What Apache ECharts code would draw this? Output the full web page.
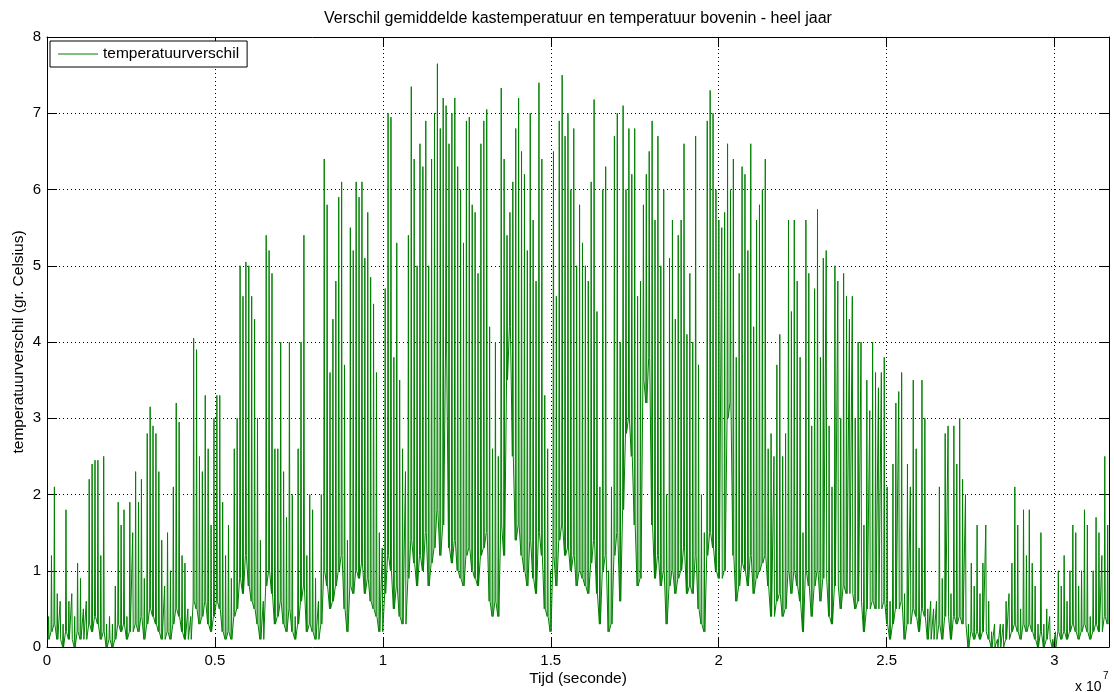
<!DOCTYPE html>
<html>
<head>
<meta charset="utf-8">
<script src="https://cdn.jsdelivr.net/npm/echarts@6/dist/echarts.min.js"></script>
<style>
  html, body { margin: 0; padding: 0; background: #ffffff; }
  #chart { width: 1114px; height: 692px; }
</style>
</head>
<body>
<div id="chart"></div>
<script>
// Yearly log (leap year, 366 days) of the difference between the mean greenhouse
// temperature and the temperature at the top, in degrees Celsius.
const SECONDS_PER_DAY = 86400;
const X_MAX = 366 * SECONDS_PER_DAY;   // 3.16224e7 s

// Daily maximum of the temperature difference (one value per day).
const dayPeak = [
  0.4,1.2,2.1,0.7,0.6,0.3,1.8,0.6,0.7,0.4,
  1.1,0.9,0.5,0.6,2.2,2.4,2.45,2.45,1.2,2.5,
  0.3,0.4,0.3,0.8,1.9,1.6,1.8,0.4,1.9,1.5,
  2.3,1.9,2.2,0.9,2.8,3.15,2.9,2.8,2.3,1.4,
  0.8,1.5,1.0,2.1,3.2,2.95,1.2,1.1,0.5,0.4,
  4.05,3.9,2.5,2.3,3.3,2.6,1.6,3.0,3.3,3.3,
  1.9,1.2,1.6,0.9,2.6,3.0,5.0,4.6,5.05,5.0,
  4.6,4.3,3.0,1.4,0.6,5.4,5.2,4.9,2.6,2.6,
  4.0,2.3,1.7,4.0,2.0,0.4,2.6,4.0,5.4,1.2,
  2.0,1.8,0.9,0.6,2.0,6.4,5.8,3.6,4.3,4.8,
  5.9,6.1,3.7,1.4,5.5,5.2,6.1,5.9,6.1,5.1,
  5.7,4.85,4.5,3.6,1.5,1.3,4.7,7.0,6.95,3.8,
  5.3,3.5,2.6,2.3,5.4,7.35,6.4,5.0,6.6,6.3,
  6.9,5.0,6.4,7.0,7.65,6.8,7.2,7.1,6.6,7.0,
  7.2,6.3,6.0,5.3,6.9,6.95,5.8,5.7,4.9,6.6,
  6.9,7.05,4.2,2.6,4.0,2.5,7.33,6.4,5.4,5.7,
  6.1,6.8,7.2,6.5,6.2,5.2,7.0,5.6,4.8,7.4,
  6.4,3.3,2.6,1.0,6.5,4.6,6.9,7.5,6.7,7.0,
  6.0,6.8,5.0,5.8,5.3,5.0,4.8,6.1,7.18,4.4,
  2.1,6.0,6.3,1.0,2.1,6.7,7.0,4.0,7.1,6.0,
  6.8,6.2,6.8,4.6,4.8,5.8,6.2,6.5,6.9,5.6,
  6.7,5.0,6.0,2.0,5.1,5.6,4.3,5.4,5.6,6.6,
  4.1,4.9,4.0,6.7,3.7,2.0,1.5,6.9,7.3,7.0,
  6.0,5.6,5.5,5.7,6.6,6.0,6.4,3.8,4.9,6.3,
  6.2,5.2,6.6,4.2,5.6,5.8,6.0,6.4,2.6,2.8,
  2.5,3.7,4.1,2.5,2.8,5.6,4.4,5.6,4.8,3.8,
  1.5,5.6,4.9,2.9,4.7,5.74,3.8,5.1,5.2,2.9,
  2.1,5.0,4.8,3.0,4.9,4.6,4.3,4.6,3.0,4.0,
  4.0,1.6,3.5,3.1,4.0,3.6,3.4,3.6,3.8,2.1,
  0.6,2.4,3.2,3.35,3.6,0.7,2.4,2.1,3.5,2.6,
  1.3,3.5,3.0,0.5,0.6,0.5,0.6,2.1,0.9,2.8,
  2.9,0.7,2.9,2.4,3.0,2.2,2.0,0.3,1.1,0.8,
  1.6,0.7,1.1,1.6,0.6,0.2,0.3,0.1,0.3,0.3,
  0.6,0.7,1.1,2.1,1.6,0.5,1.8,1.2,1.8,1.1,
  0.8,0.3,1.5,0.3,0.5,0.4,0.1,0.2,1.0,0.8,
  1.2,0.6,1.0,1.6,1.5,0.8,1.0,1.8,1.6,0.4,
  1.0,1.7,1.5,1.2,2.5,1.6
];

// Night-time level of the temperature difference (one value per day).
const dayLow = [
  0.1,0.2,0.3,0.1,0.1,0.0,0.2,0.1,0.1,0.0,
  0.2,0.1,0.1,0.1,0.3,0.2,0.4,0.3,0.1,0.2,
  0.0,0.1,0.0,0.1,0.3,0.2,0.3,0.1,0.2,0.2,
  0.3,0.2,0.4,0.1,0.3,0.5,0.4,0.3,0.2,0.1,
  0.1,0.2,0.1,0.3,0.5,0.4,0.2,0.1,0.1,0.1,
  0.6,0.5,0.3,0.4,0.6,0.3,0.2,0.4,0.6,0.5,
  0.2,0.1,0.2,0.1,0.4,0.5,0.9,0.7,1.2,0.8,
  0.6,0.5,0.3,0.1,0.1,0.8,1.0,0.7,0.3,0.4,
  0.6,0.3,0.2,0.5,0.2,0.1,0.3,0.6,0.8,0.2,
  0.3,0.2,0.1,0.1,0.3,1.0,0.8,0.5,0.6,0.8,
  1.0,1.2,0.5,0.2,0.8,0.7,1.0,0.9,1.1,0.7,
  0.9,0.6,0.5,0.4,0.2,0.2,0.7,1.2,1.0,0.5,
  0.8,0.4,0.3,0.3,0.9,1.4,1.1,0.8,1.2,1.0,
  1.5,0.8,1.1,1.3,1.8,1.2,1.6,4.0,1.3,1.1,
  1.4,1.0,0.9,0.8,1.2,1.3,1.0,0.9,0.8,1.2,
  1.3,1.5,0.6,0.4,0.6,0.4,1.6,1.2,3.5,4.2,
  2.5,1.4,1.6,1.2,1.0,0.8,1.4,0.9,0.7,1.5,
  1.2,0.5,0.4,0.2,1.2,0.8,1.4,1.6,1.2,1.3,
  1.0,1.2,0.8,1.0,0.9,0.8,0.7,1.1,1.4,0.7,
  0.3,1.0,1.2,0.2,0.3,1.2,1.5,0.6,1.8,2.8,
  3.0,2.5,1.6,0.8,0.9,3.5,3.2,3.8,1.6,0.9,
  1.2,0.8,1.0,0.3,0.8,1.0,0.7,0.9,1.0,1.3,
  0.7,0.8,0.7,1.2,0.5,0.3,0.2,1.2,1.5,1.3,
  1.0,0.9,0.9,1.0,3.0,3.2,1.2,0.6,0.8,1.1,
  1.0,0.8,1.2,0.7,0.9,1.0,1.1,1.2,0.8,0.4,
  0.4,0.6,0.7,0.4,0.5,1.0,0.7,1.0,0.8,0.6,
  0.2,1.0,0.8,0.4,0.8,1.0,0.6,0.9,0.9,0.4,
  0.3,0.8,0.8,0.5,0.8,0.7,0.7,0.7,0.5,0.6,
  0.6,0.2,0.5,0.5,0.6,0.5,0.5,0.5,0.6,0.3,
  0.1,0.3,0.5,0.5,0.6,0.1,0.3,0.3,0.5,0.4,
  0.2,0.5,0.4,0.1,0.1,0.1,0.1,0.3,0.1,0.4,
  0.4,0.1,0.4,0.3,0.4,0.3,0.3,0.0,0.2,0.1,
  0.2,0.1,0.2,0.2,0.1,0.0,0.0,0.0,0.0,0.0,
  0.1,0.1,0.2,0.3,0.2,0.1,0.3,0.2,0.3,0.2,
  0.1,0.0,0.2,0.0,0.1,0.1,0.0,0.0,0.2,0.1,
  0.2,0.1,0.2,0.3,0.2,0.1,0.2,0.3,0.2,0.1,
  0.2,0.3,0.2,0.2,0.4,0.3
];

// Axis ticks
const xTickStep = 5e6;     // labelled in units of 1e7 s
const yTicks = [0, 1, 2, 3, 4, 5, 6, 7, 8];

// Per day: night level in the morning, afternoon peak, night level in the evening.
const seriesData = [];
for (let d = 0; d < dayPeak.length; d++) {
  const t0 = d * SECONDS_PER_DAY;
  seriesData.push([t0 + 9 * 3600, dayLow[d]]);
  seriesData.push([t0 + 13 * 3600, dayPeak[d]]);
  seriesData.push([t0 + 17 * 3600, dayLow[d]]);
}

const FONT = "'Liberation Sans', Arial, Helvetica, sans-serif";
const AXIS_COLOR = '#000000';
const gridLine = () => ({ show: true, lineStyle: { color: '#000000', width: 1, type: [1, 3] } });
const tickIn = () => ({ show: true, inside: true, length: 10, lineStyle: { color: AXIS_COLOR, width: 1 } });
const axisLine = () => ({ show: true, onZero: false, lineStyle: { color: AXIS_COLOR, width: 1 } });

const chart = echarts.init(document.getElementById('chart'), null, { renderer: 'canvas' });
chart.setOption({
  animation: false,
  backgroundColor: '#ffffff',
  title: {
    text: 'Verschil gemiddelde kastemperatuur en temperatuur bovenin - heel jaar',
    left: 578, top: 11, textAlign: 'center', padding: 0,
    textStyle: { fontFamily: FONT, fontSize: 16, fontWeight: 'normal', color: '#000' }
  },
  legend: {
    data: ['temperatuurverschil'],
    left: 50, top: 41,
    padding: [5, 8, 5, 8],
    borderColor: '#000', borderWidth: 1, backgroundColor: '#ffffff',
    icon: 'rect', itemWidth: 40, itemHeight: 1,
    textStyle: { fontFamily: FONT, fontSize: 15.5, color: '#000' }
  },
  grid: { left: 47, right: 5, top: 37, bottom: 45, containLabel: false },
  xAxis: [{
    type: 'value', position: 'bottom', min: 0, max: X_MAX, interval: xTickStep,
    name: 'Tijd (seconde)', nameLocation: 'middle', nameGap: 24, nameMoveOverlap: false,
    nameTextStyle: { fontFamily: FONT, fontSize: 15.5, color: '#000' },
    axisLine: axisLine(),
    axisTick: tickIn(),
    axisLabel: {
      fontFamily: FONT, fontSize: 15, color: '#000', margin: 6,
      showMaxLabel: false,
      formatter: v => String(+(v / 1e7).toFixed(2))
    },
    splitLine: gridLine()
  }, {
    type: 'value', position: 'top', min: 0, max: X_MAX, interval: xTickStep,
    axisLine: axisLine(),
    axisTick: tickIn(), axisLabel: { show: false }, splitLine: { show: false }
  }],
  yAxis: [{
    type: 'value', position: 'left', min: yTicks[0], max: yTicks[yTicks.length - 1], interval: 1,
    name: 'temperatuurverschil (gr. Celsius)', nameLocation: 'middle', nameGap: 20, nameMoveOverlap: false,
    nameTextStyle: { fontFamily: FONT, fontSize: 15.5, color: '#000' },
    axisLine: axisLine(),
    axisTick: tickIn(),
    axisLabel: { fontFamily: FONT, fontSize: 15, color: '#000', margin: 6 },
    splitLine: gridLine()
  }, {
    type: 'value', position: 'right', min: yTicks[0], max: yTicks[yTicks.length - 1], interval: 1,
    axisLine: axisLine(),
    axisTick: tickIn(), axisLabel: { show: false }, splitLine: { show: false }
  }],
  series: [{
    name: 'temperatuurverschil',
    type: 'line',
    xAxisIndex: 0, yAxisIndex: 0,
    data: seriesData,
    showSymbol: false, symbol: 'none',
    sampling: null,
    lineStyle: { color: '#008000', width: 1 },
    itemStyle: { color: '#008000' },
    z: 2
  }],
  graphic: [
    { type: 'text', left: 1075, top: 680,
      style: { text: 'x 10', fontFamily: FONT, fontSize: 14, fill: '#000' } },
    { type: 'text', left: 1103, top: 671,
      style: { text: '7', fontFamily: FONT, fontSize: 10, fill: '#000' } }
  ]
});
</script>
</body>
</html>
